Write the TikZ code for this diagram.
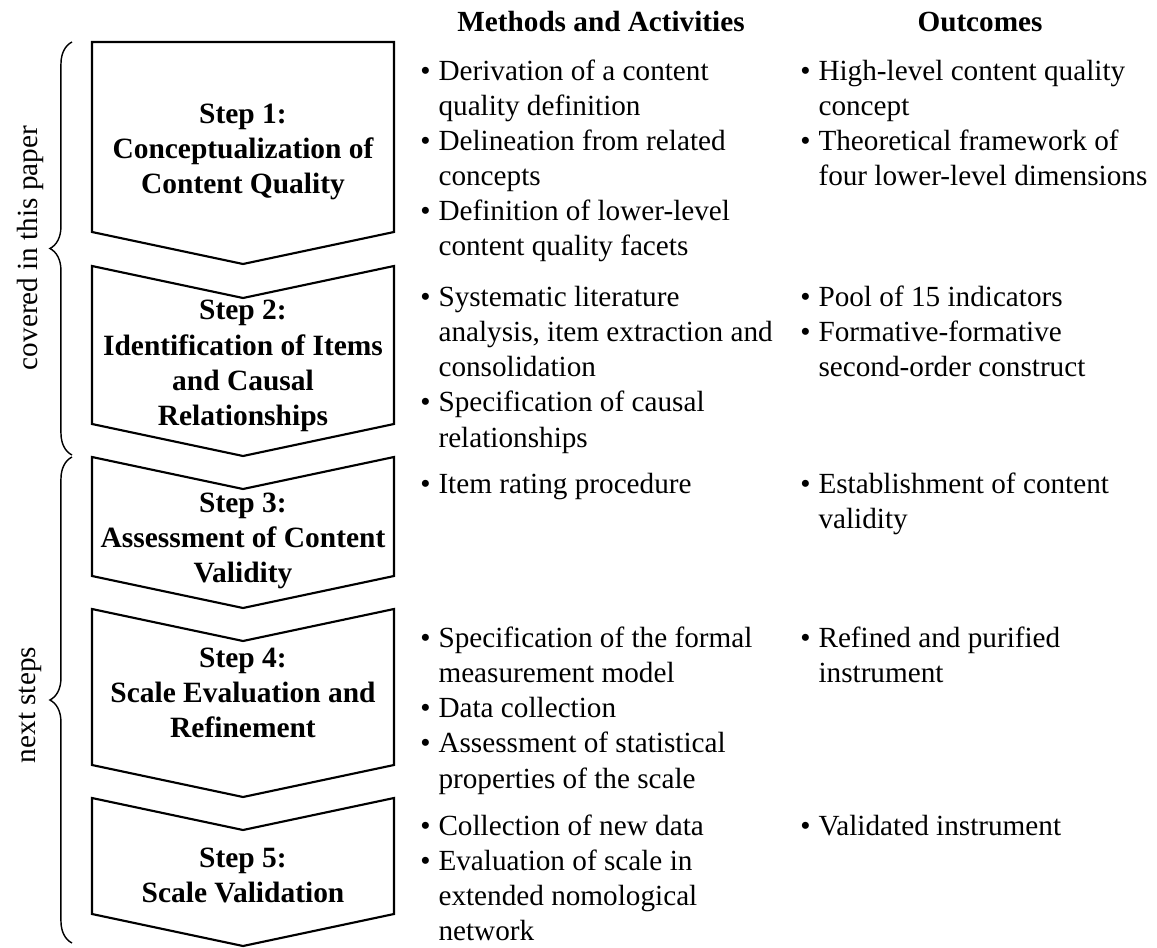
\documentclass[tikz,border=0pt]{standalone}
\usepackage{fontspec}
\setmainfont{Liberation Serif}
\usetikzlibrary{decorations.pathreplacing}

\newcommand{\bul}{\makebox[7.6pt][l]{\textbullet}}
\newcommand{\cnt}{\hspace*{7.6pt}}

\begin{document}
\begin{tikzpicture}[
  x=0.421pt, y=-0.421pt,
  font=\fontsize{12.3}{14.8}\selectfont,
  chev/.style={draw, line width=0.9pt, line join=miter},
  steplbl/.style={anchor=north, align=center, inner sep=0pt, font=\fontsize{12.4}{14.8}\selectfont\bfseries},
  items/.style={anchor=north west, align=left, inner sep=0pt},
  head/.style={anchor=base, inner sep=0pt, font=\fontsize{12.3}{14.8}\selectfont\bfseries},
  brc/.style={decorate, decoration={brace, amplitude=9.3pt}, line width=0.6pt},
  side/.style={rotate=90, inner sep=0pt}
]
\useasboundingbox (0,0) rectangle (1157,947);

% chevrons
\draw[chev] (92,42) -- (394,42) -- (394,232) -- (243,264) -- (92,232) -- cycle;
\draw[chev] (92,266) -- (243,298) -- (394,266) -- (394,424) -- (243,456) -- (92,424) -- cycle;
\draw[chev] (92,457) -- (243,489) -- (394,457) -- (394,576) -- (243,608) -- (92,576) -- cycle;
\draw[chev] (92,609) -- (243,641) -- (394,609) -- (394,765) -- (243,797) -- (92,765) -- cycle;
\draw[chev] (92,798) -- (243,830) -- (394,798) -- (394,914) -- (243,946) -- (92,914) -- cycle;

\node[steplbl] (s1) at (243,98.4) {\strut Step 1:\\Conceptualization of\\Content Quality};
\node[steplbl] (s2) at (243,294.8) {\strut Step 2:\\Identification of Items\\and Causal\\Relationships};
\node[steplbl] (s3) at (243,487.4) {\strut Step 3:\\Assessment of Content\\Validity};
\node[steplbl] (s4) at (243,642.4) {\strut Step 4:\\Scale Evaluation and\\Refinement};
\node[steplbl] (s5) at (243,842.4) {\strut Step 5:\\Scale Validation};

% column heads
\node[head] (hm) at (601,32) {Methods and Activities};
\node[head] (ho) at (980,32) {Outcomes};

% methods and activities
\node[items] (m1) at (420,55) {\strut\bul Derivation of a content\\\cnt quality definition\\\bul Delineation from related\\\cnt concepts\\\bul Definition of lower-level\\\cnt content quality facets};
\node[items] (m2) at (420,281.4) {\strut\bul Systematic literature\\\cnt analysis, item extraction and\\\cnt consolidation\\\bul Specification of causal\\\cnt relationships};
\node[items] (m3) at (420,468.4) {\strut\bul Item rating procedure};
\node[items] (m4) at (420,622.4) {\strut\bul Specification of the formal\\\cnt measurement model\\\bul Data collection\\\bul Assessment of statistical\\\cnt properties of the scale};
\node[items] (m5) at (420,810.4) {\strut\bul Collection of new data\\\bul Evaluation of scale in\\\cnt extended nomological\\\cnt network};

% outcomes
\node[items] (o1) at (800,55) {\strut\bul High-level content quality\\\cnt concept\\\bul Theoretical framework of\\\cnt four lower-level dimensions};
\node[items] (o2) at (800,281.4) {\strut\bul Pool of 15 indicators\\\bul Formative-formative\\\cnt second-order construct};
\node[items] (o3) at (800,468.4) {\strut\bul Establishment of content\\\cnt validity};
\node[items] (o4) at (800,622.4) {\strut\bul Refined and purified\\\cnt instrument};
\node[items] (o5) at (800,810.4) {\strut\bul Validated instrument};

% braces
\draw[brc] (72,455) -- (72,42);
\draw[brc] (72,943) -- (72,457);
\node[side] (cov) at (30,248) {covered in this paper};
\node[side] (nxt) at (30,705) {next steps};
\end{tikzpicture}
\end{document}
